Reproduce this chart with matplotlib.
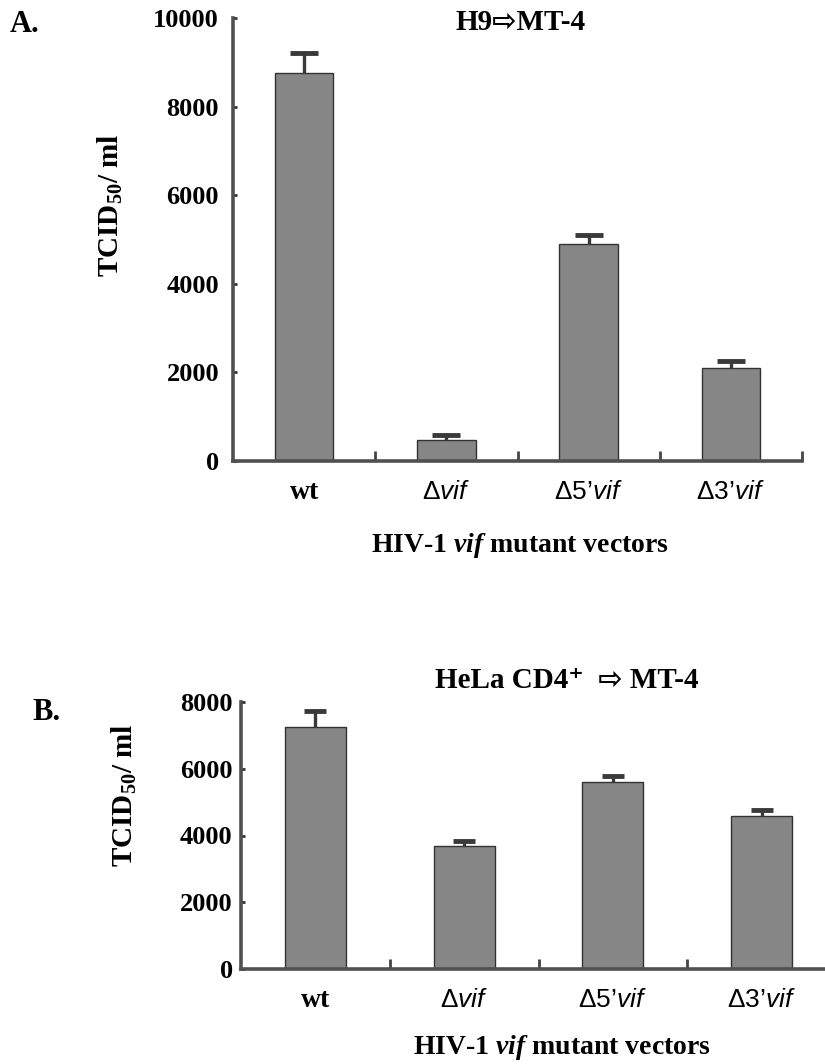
import matplotlib
matplotlib.use("Agg")
import matplotlib.pyplot as plt
import numpy as np

# ---- data ----
categories = ["wt", "Δvif", "Δ5’vif", "Δ3’vif"]
a_values = [8750, 480, 4900, 2100]
a_errors = [450, 110, 200, 160]
b_values = [7250, 3700, 5600, 4570]
b_errors = [480, 150, 180, 180]
a_yticks = [0, 2000, 4000, 6000, 8000, 10000]
b_yticks = [0, 2000, 4000, 6000, 8000]

plt.rcParams["mathtext.fontset"] = "custom"
plt.rcParams["mathtext.rm"] = "Liberation Serif:bold"
plt.rcParams["mathtext.it"] = "Liberation Sans:italic"
plt.rcParams["mathtext.bfit"] = "Liberation Serif:italic:bold"

W, H = 825, 1064
fig = plt.figure(figsize=(W / 100, H / 100), dpi=100)

SERIF = ["Liberation Serif", "DejaVu Serif"]
BAR = "#868686"
EDGE = "#333333"


def fmt_cat(c):
    if c == "wt":
        return "wt"
    return c.replace("vif", r"$\mathit{vif}$")


def panel(rect, values, errors, ymax, yticks, ypad, capsize):
    ax = fig.add_axes(rect)
    x = np.arange(len(values))
    ax.bar(x, values, width=0.41, color=BAR, edgecolor=EDGE, linewidth=1.0, zorder=2)
    _, caps, _ = ax.errorbar(x, values, yerr=[np.zeros(len(errors)), errors],
                             fmt="none", ecolor="#3a3a3a", elinewidth=2.4,
                             capsize=capsize, capthick=3.5, zorder=3)
    # keep only the upper caps
    for cl in caps:
        if np.allclose(cl.get_ydata(), values):
            cl.set_visible(False)
    ax.set_xlim(-0.5, 3.5)
    ax.set_ylim(0, ymax)
    for s in ("top", "right"):
        ax.spines[s].set_visible(False)
    for s in ("left", "bottom"):
        ax.spines[s].set_linewidth(2.6)
        ax.spines[s].set_color("#505050")
    ax.set_yticks(yticks)
    ax.set_yticklabels([str(t) for t in yticks], fontsize=19, fontweight="bold",
                       family=SERIF)
    ax.tick_params(axis="y", direction="in", length=3, width=2, pad=ypad,
                   colors="#333333", labelcolor="black")
    ax.set_xticks(x)
    ax.set_xticklabels([fmt_cat(c) for c in categories])
    ax.tick_params(axis="x", length=0, pad=14)
    for lab, c in zip(ax.get_xticklabels(), categories):
        if c == "wt":
            lab.set_fontfamily(SERIF)
            lab.set_fontweight("bold")
            lab.set_fontsize(20)
        else:
            lab.set_fontfamily(["Liberation Sans", "DejaVu Sans"])
            lab.set_fontsize(19)
    ax.set_xticks(x + 0.5, minor=True)
    ax.tick_params(axis="x", which="minor", direction="in", length=7, width=2,
                   colors="#444444")
    return ax


axA = panel([233 / W, 1 - 461 / H, (802 - 233) / W, (461 - 18) / H],
            a_values, a_errors, 10000, a_yticks, 10, 10)
axB = panel([241 / W, 1 - 969 / H, (836 - 241) / W, (969 - 702) / H],
            b_values, b_errors, 8000, b_yticks, 6, 8)


def ft(x, y, s, **kw):
    fig.text(x / W, 1 - y / H, s, **kw)


TF = ["Liberation Serif", "DejaVu Sans"]
ft(10, 24, "A.", fontsize=22, fontweight="bold", family=SERIF, va="center")
ft(32, 712, "B.", fontsize=22, fontweight="bold", family=SERIF, va="center")
ft(521, 22, "H9⇨MT-4", fontsize=21, fontweight="bold", family=TF,
   ha="center", va="center")
ft(567, 680, "HeLa CD4⁺  ⇨ MT-4", fontsize=21, fontweight="bold", family=TF,
   ha="center", va="center")
ft(110, 205, r"TCID$_{50}$/ ml", fontsize=21, fontweight="bold", family=SERIF,
   rotation=90, ha="center", va="center")
ft(124, 795, r"TCID$_{50}$/ ml", fontsize=21, fontweight="bold", family=SERIF,
   rotation=90, ha="center", va="center")
ft(520, 545, r"HIV-1 $\mathbfit{vif}$ mutant vectors", fontsize=20,
   fontweight="bold", family=SERIF, ha="center", va="center")
ft(562, 1048, r"HIV-1 $\mathbfit{vif}$ mutant vectors", fontsize=20,
   fontweight="bold", family=SERIF, ha="center", va="center")

fig.savefig("out.png", dpi=100)
